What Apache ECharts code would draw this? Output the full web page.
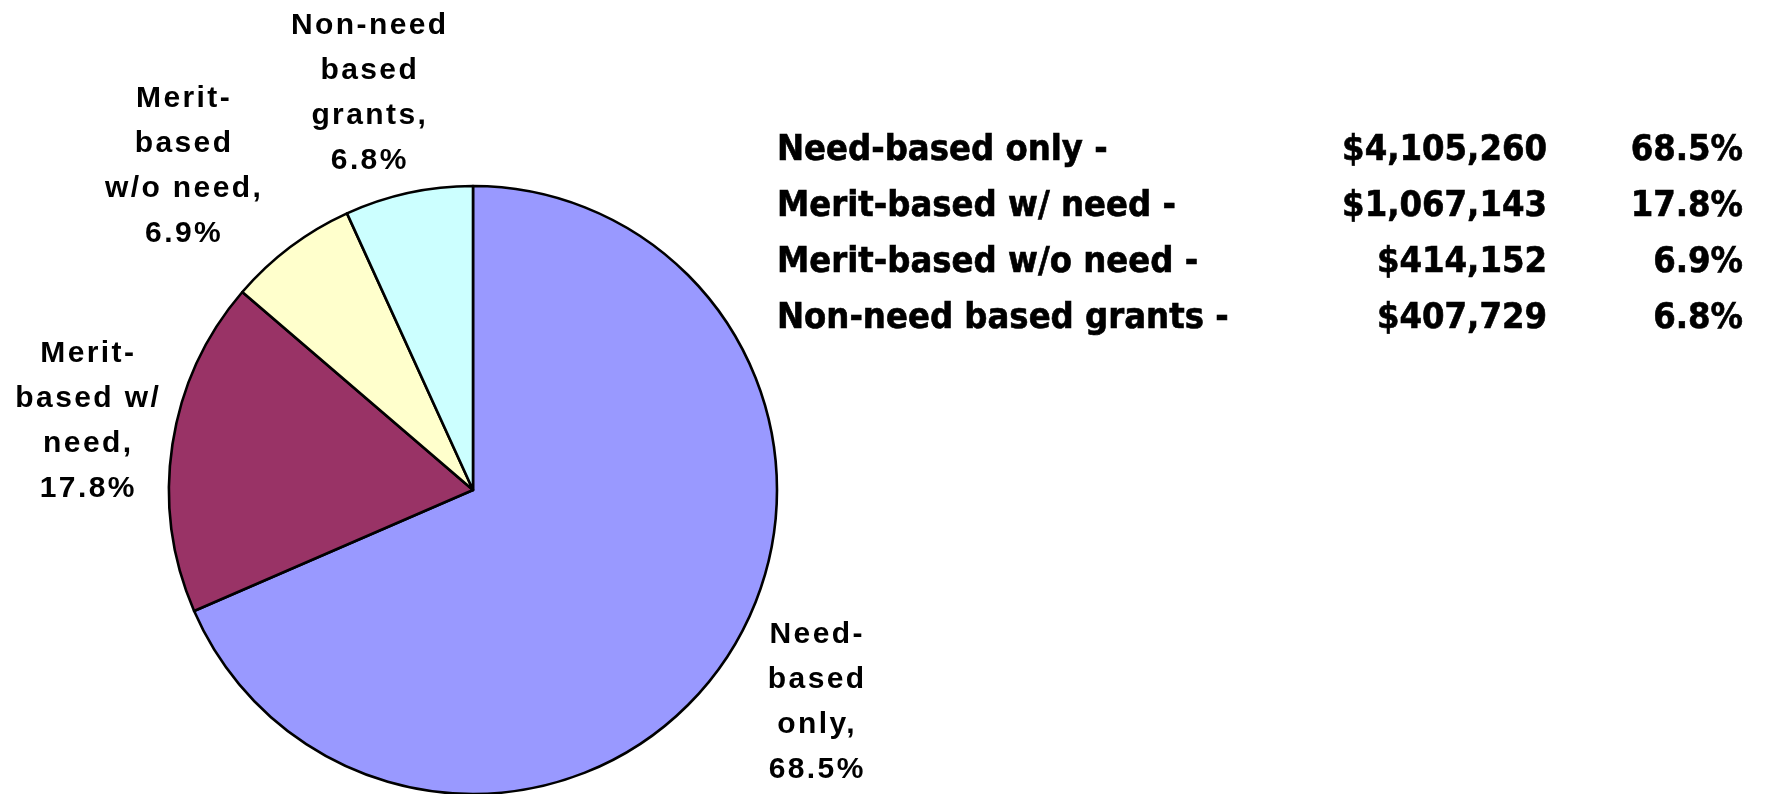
<!DOCTYPE html>
<html>
<head>
<meta charset="utf-8">
<script src="https://cdn.jsdelivr.net/npm/echarts@6/dist/echarts.min.js"></script>
<style>
html,body{margin:0;padding:0;background:#fff;}
#chart{width:1765px;height:794px;}
</style>
</head>
<body>
<div id="chart"></div>
<script>
// ---- data ----
const categories = ['Need-based only', 'Merit-based w/ need', 'Merit-based w/o need', 'Non-need based grants'];
const amounts = [4105260, 1067143, 414152, 407729];
const pieLabelNames = ['Need-\nbased\nonly', 'Merit-\nbased w/\nneed', 'Merit-\nbased\nw/o need', 'Non-need\nbased\ngrants'];
const sliceColors = ['#9999FF', '#993366', '#FFFFCC', '#CCFFFF'];

// ---- layout / style ----
const CX = 473, CY = 490, R = 304;
const labelRadialOffset = [100, 87, 131, 107];
const labelAngleShift = [-1.7, 1.7, -4.7, -2.3];
const tableX = {name: 777, amount: 1547, pct: 1743};
const tableRowY0 = 151, tableRowStep = 56;

// small letter spacing for the pie labels (Excel-like spaced Arial)
(function(){
  const P = CanvasRenderingContext2D.prototype;
  const orig = P.fillText;
  P.fillText = function(t, x, y, m){
    if ('letterSpacing' in this) {
      this.letterSpacing = /Liberation Sans/.test(this.font) ? '2.4px' : '0px';
    }
    return m === undefined ? orig.call(this, t, x, y) : orig.call(this, t, x, y, m);
  };
})();

const total = amounts.reduce((a, b) => a + b, 0);
const pct = amounts.map(v => (v / total * 100).toFixed(1) + '%');
const fmtMoney = v => '$' + v.toLocaleString('en-US');

const chart = echarts.init(document.getElementById('chart'), null, {renderer: 'canvas'});

const tableFont = {fontFamily: "'DejaVu Sans Condensed', 'DejaVu Sans'", fontWeight: 'bold', fontSize: 36, fill: '#000', stroke: '#000', lineWidth: 0.6};
const graphics = [];
categories.forEach((c, i) => {
  const y = tableRowY0 + i * tableRowStep;
  graphics.push({type: 'text', x: tableX.name, y: y, silent: true,
    style: Object.assign({text: c + ' -', align: 'left', verticalAlign: 'middle'}, tableFont)});
  graphics.push({type: 'text', x: tableX.amount, y: y, silent: true,
    style: Object.assign({text: fmtMoney(amounts[i]), align: 'right', verticalAlign: 'middle'}, tableFont)});
  graphics.push({type: 'text', x: tableX.pct, y: y, silent: true,
    style: Object.assign({text: pct[i], align: 'right', verticalAlign: 'middle'}, tableFont)});
});

const cum = [];
amounts.reduce((acc, v, i) => { cum[i] = acc; return acc + v; }, 0);

chart.setOption({
  animation: false,
  backgroundColor: '#fff',
  graphic: graphics,
  series: [{
    type: 'pie',
    center: [CX, CY],
    radius: R,
    startAngle: 90,
    clockwise: true,
    avoidLabelOverlap: false,
    emphasis: {disabled: true},
    itemStyle: {borderColor: '#000', borderWidth: 2.6},
    label: {
      show: true,
      position: 'outside',
      formatter: p => pieLabelNames[p.dataIndex] + ',\n' + pct[p.dataIndex],
      fontFamily: 'Liberation Sans',
      fontWeight: 'bold',
      fontSize: 30,
      lineHeight: 45,
      color: '#000',
      align: 'center'
    },
    labelLine: {show: false},
    labelLayout: function (params) {
      const i = params.dataIndex;
      const ang = ((cum[i] + amounts[i] / 2) / total * 360 + labelAngleShift[i]) * Math.PI / 180;
      const d = R + labelRadialOffset[i];
      return {x: CX + d * Math.sin(ang), y: CY - d * Math.cos(ang) + 1, align: 'center', verticalAlign: 'middle'};
    },
    data: categories.map((c, i) => ({name: c, value: amounts[i], itemStyle: {color: sliceColors[i]}}))
  }]
});
</script>
</body>
</html>
